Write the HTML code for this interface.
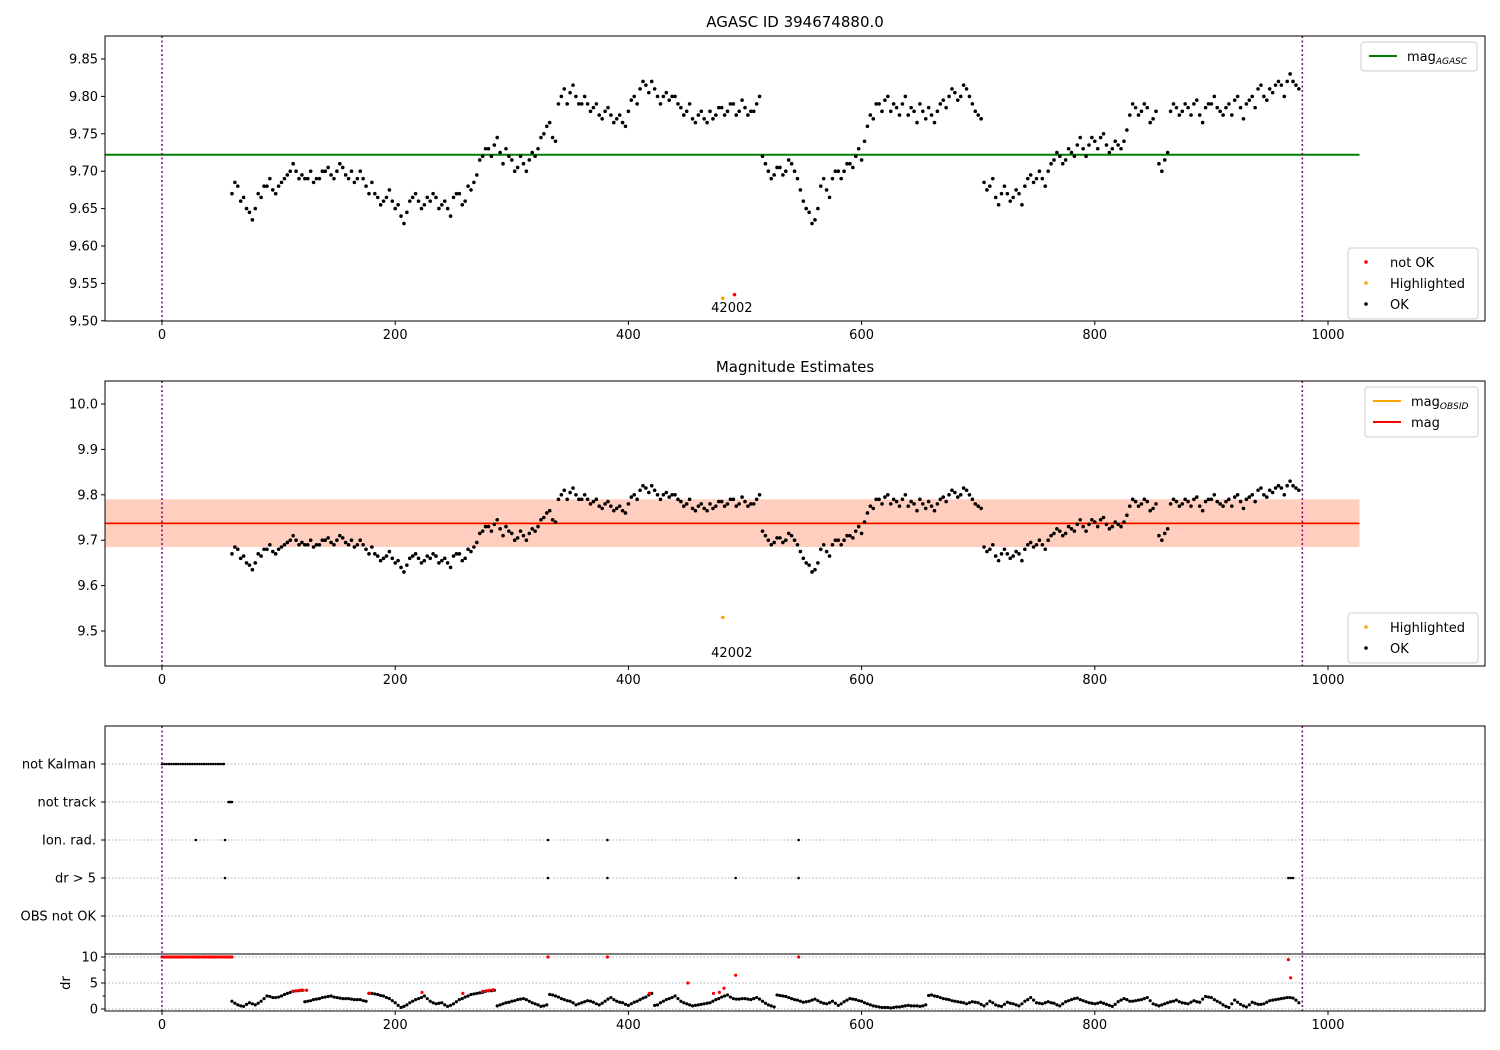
<!DOCTYPE html>
<html><head><meta charset="utf-8">
<style>
html,body{margin:0;padding:0;background:#fff;}
svg{display:block;font-family:"DejaVu Sans","Liberation Sans",sans-serif;}
</style></head>
<body>
<svg id="fig" width="1500" height="1050" viewBox="0 0 1500 1050"></svg>
<script>
const xStart = 60, xStep = 5;
const mags = [9.67,9.68,9.665,9.645,9.65,9.665,9.68,9.675,9.68,9.69,9.70,9.70,9.695,9.69,9.685,9.69,9.70,9.695,9.70,9.705,9.69,9.685,9.70,9.68,9.685,9.665,9.66,9.675,9.65,9.64,9.645,9.665,9.66,9.655,9.66,9.665,9.655,9.65,9.665,9.67,9.66,9.675,9.695,9.72,9.73,9.735,9.725,9.73,9.715,9.705,9.71,9.715,9.72,9.745,9.76,9.745,9.79,9.81,9.805,9.80,9.79,9.79,9.785,9.775,9.78,9.775,9.77,9.765,9.78,9.80,9.81,9.815,9.82,9.80,9.80,9.795,9.80,9.785,9.78,9.77,9.775,9.77,9.78,9.775,9.785,9.78,9.79,9.78,9.785,9.78,9.79,9.72,9.70,9.695,9.705,9.70,9.71,9.69,9.66,9.645,9.635,9.68,9.675,9.69,9.70,9.70,9.71,9.72,9.715,9.76,9.77,9.79,9.795,9.78,9.785,9.79,9.775,9.78,9.79,9.77,9.775,9.78,9.795,9.80,9.805,9.80,9.81,9.79,9.775,9.685,9.68,9.665,9.67,9.67,9.665,9.67,9.68,9.695,9.69,9.69,9.70,9.715,9.72,9.715,9.725,9.735,9.73,9.735,9.74,9.745,9.735,9.73,9.735,9.74,9.775,9.785,9.78,9.785,9.77,9.71,9.715,9.78,9.785,9.78,9.785,9.79,9.775,9.785,9.79,9.785,9.775,9.79,9.795,9.785,9.79,9.80,9.81,9.80,9.81,9.815,9.815,9.82,9.82,9.81];
const xStartB = 62.5;
const magsB = [9.685,9.66,9.65,9.635,9.67,9.68,9.69,9.67,9.685,9.695,9.71,9.69,9.69,9.70,9.69,9.70,9.705,9.69,9.71,9.695,9.70,9.69,9.69,9.67,9.67,9.655,9.665,9.66,9.655,9.63,9.66,9.67,9.65,9.665,9.67,9.65,9.66,9.64,9.67,9.655,9.68,9.685,9.715,9.73,9.72,9.745,9.71,9.72,9.70,9.72,9.70,9.725,9.73,9.75,9.765,9.74,9.80,9.79,9.815,9.79,9.80,9.78,9.79,9.77,9.785,9.765,9.775,9.76,9.795,9.79,9.82,9.805,9.81,9.79,9.805,9.80,9.79,9.775,9.79,9.765,9.78,9.765,9.77,9.785,9.775,9.79,9.775,9.795,9.775,9.78,9.80,9.71,9.69,9.705,9.695,9.715,9.70,9.675,9.65,9.63,9.65,9.69,9.665,9.70,9.69,9.71,9.705,9.73,9.74,9.775,9.79,9.78,9.80,9.79,9.775,9.80,9.785,9.765,9.78,9.785,9.765,9.79,9.785,9.81,9.795,9.815,9.80,9.78,9.77,9.675,9.69,9.655,9.68,9.66,9.675,9.655,9.69,9.685,9.70,9.68,9.71,9.725,9.71,9.73,9.72,9.745,9.72,9.745,9.73,9.75,9.725,9.74,9.73,9.755,9.79,9.775,9.79,9.765,9.78,9.70,9.725,9.79,9.775,9.79,9.775,9.795,9.765,9.79,9.80,9.78,9.785,9.775,9.80,9.77,9.795,9.785,9.815,9.795,9.805,9.82,9.80,9.83,9.815];
const drs = [1.5,0.8,0.5,1.2,0.8,1.5,2.5,2.2,2.3,2.8,3.2,3.5,3.6,1.5,1.8,2.0,2.3,2.5,2.2,2.0,2.0,1.8,1.8,1.5,3.0,2.8,2.5,2.0,1.2,0.3,0.8,1.5,2.0,2.5,1.5,1.0,1.2,0.5,1.0,1.8,2.3,2.8,3.0,3.2,3.5,3.6,0.8,1.2,1.5,1.8,2.0,1.5,1.0,0.5,0.8,2.7,2.3,1.8,1.5,0.8,1.2,1.6,1.3,0.8,1.5,2.2,1.5,1.2,0.7,1.3,1.8,2.3,3.0,0.8,1.5,2.0,2.5,1.5,1.0,0.6,0.8,1.0,1.2,1.8,2.3,2.7,2.0,1.9,2.0,1.8,2.2,1.5,0.8,0.4,2.6,2.4,2.0,1.7,1.3,1.5,1.9,1.3,1.0,1.5,0.7,1.4,2.0,1.8,1.5,1.0,0.6,0.4,0.3,0.2,0.4,0.5,0.7,0.6,0.5,0.8,2.7,2.4,2.0,1.8,1.5,1.3,1.0,1.4,1.2,0.6,1.5,0.8,0.5,1.3,1.0,0.6,1.5,2.2,1.2,1.0,1.4,1.1,0.6,1.4,1.8,2.1,1.6,1.2,1.0,1.3,0.9,0.5,1.4,2.0,1.5,1.6,1.8,2.2,1.0,0.6,1.0,1.4,1.7,1.2,1.0,1.6,1.3,2.4,2.2,1.5,0.8,0.3,1.7,0.9,0.4,1.3,0.9,1.0,1.6,1.8,2.0,2.2,2.1,1.2];
const drsB = [1.1,0.6,0.9,1.0,1.1,2.0,2.4,2.2,2.5,3.0,3.4,3.5,1.4,1.6,1.9,2.2,2.4,2.3,2.1,2.0,1.9,1.8,1.6,3.0,2.9,2.6,2.2,1.6,0.7,0.5,1.2,1.8,2.2,2.0,1.2,1.1,0.8,0.7,1.4,2.0,2.5,2.9,3.1,3.4,3.5,0.6,1.0,1.3,1.6,1.9,1.8,1.2,0.8,0.6,2.8,2.5,2.0,1.6,1.2,1.0,1.4,1.5,1.0,1.1,1.9,1.8,1.3,0.9,1.0,1.5,2.1,2.7,0.7,1.2,1.8,2.2,2.0,1.2,0.8,0.7,0.9,1.1,1.5,2.0,2.5,2.3,1.9,2.0,1.9,2.0,1.9,1.1,0.6,2.7,2.5,2.2,1.8,1.5,1.4,1.7,1.6,1.1,1.2,1.1,1.0,1.7,1.9,1.6,1.2,0.8,0.5,0.3,0.3,0.3,0.4,0.6,0.6,0.6,0.6,2.6,2.5,2.2,1.9,1.6,1.4,1.2,1.2,1.3,0.9,1.0,1.2,0.6,0.9,1.1,0.8,1.0,1.8,1.7,1.1,1.2,1.2,0.8,1.0,1.6,2.0,1.8,1.4,1.1,1.1,1.1,0.7,0.9,1.7,1.8,1.5,1.7,2.0,1.6,0.8,0.8,1.2,1.5,1.4,1.1,1.3,1.4,1.9,2.3,1.8,1.2,0.5,1.0,1.3,0.6,0.8,1.1,0.9,1.3,1.7,1.9,2.1,2.2,1.7];
const redDrX = [0,2,4,6,8,10,12,14,16,18,20,22,24,26,28,30,32,34,36,38,40,42,44,46,48,50,52,54,56,58,60,112,115,118,121,124,178,223,258,275,278,281,284,331,382,418,451,473,478,482,492,546,966,968];
const redDrY = [10,10,10,10,10,10,10,10,10,10,10,10,10,10,10,10,10,10,10,10,10,10,10,10,10,10,10,10,10,10,10,3.4,3.5,3.6,3.6,3.6,3.0,3.2,3.0,3.4,3.5,3.6,3.7,10,10,3.0,5.0,3.0,3.2,4.0,6.5,10,9.5,6.0];
const flagCats = ["not Kalman","not track","Ion. rad.","dr > 5","OBS not OK"];
const flagNotKalman = [0,2,4,6,8,10,12,14,16,18,20,22,24,26,28,30,32,34,36,38,40,42,44,46,48,50,52,53];
const flagNotTrack = [57,58,59,60];
const flagIonRad = [29,54,331,382,546];
const flagDr5 = [54,331,382,492,546,966,968,970];
const flagObs = [];
const magAgasc = 9.722, magObs = 9.737, magLo = 9.685, magHi = 9.79;
const highX = 481, highY = 9.53, notOkX = 491, notOkY = 9.535;
const xTicks = [0,200,400,600,800,1000];
const yTicks1 = [9.50,9.55,9.60,9.65,9.70,9.75,9.80,9.85];
const yTicks2 = [9.5,9.6,9.7,9.8,9.9,10.0];
const drTicks = [0,5,10];

const NS="http://www.w3.org/2000/svg";
const svg=document.getElementById('fig');
function el(tag,attrs,parent,text){const e=document.createElementNS(NS,tag);for(const k in attrs)e.setAttribute(k,attrs[k]);if(text!==undefined)e.textContent=text;(parent||svg).appendChild(e);return e;}
const L=105,R=1485;
const sx=v=>162+v*1.166;
const y1=v=>59+(9.85-v)*748;
const y2=v=>404+(10.0-v)*454;
const yc=i=>764+i*38;
const yd=v=>1009-v*5.2;

function panel(name){
  const g=el('g',{});
  
  
  return g;
}
function frame(g,top,bottom){
  const r=el('rect',{x:L,y:top,width:R-L,height:bottom-top,fill:'none',stroke:'#000','stroke-width':1},g);
  
  
}
function xaxis(g,bottom){
  xTicks.forEach(t=>{
    const ln=el('line',{x1:sx(t),x2:sx(t),y1:bottom,y2:bottom+4,stroke:'#000'},g);
    
    
    const tx=el('text',{x:sx(t),y:bottom+18,'font-size':13,'text-anchor':'middle'},g,String(t));
    
    
  });
}
function yaxis(g,ticks,fy,fmt){
  ticks.forEach(t=>{
    const ln=el('line',{x1:L-4,x2:L,y1:fy(t),y2:fy(t),stroke:'#000'},g);
    
    
    const tx=el('text',{x:L-7,y:fy(t)+4.5,'font-size':13,'text-anchor':'end'},g,fmt(t));
    
    
  });
}
function vlines(g,top,bottom){
  [0,978].forEach(v=>{
    const ln=el('line',{x1:sx(v),x2:sx(v),y1:top,y2:bottom,stroke:'#800080','stroke-width':1.5,'stroke-dasharray':'2,2.5'},g);
    
    
  });
}
function dots(g,xs,ys,fy,color,r,name){
  xs.forEach((x,i)=>{
    if(ys[i]===undefined) return;
    const c=el('circle',{cx:sx(x),cy:fy(ys[i]),r:r,fill:color},g);
    
    
  });
}
function legend(g,x,y,w,items){
  const h=items.length*21+8;
  const b=el('rect',{x:x,y:y,width:w,height:h,rx:3,fill:'#fff','fill-opacity':0.8,stroke:'#ccc'},g);
  
  
  items.forEach((it,i)=>{
    const cy=y+14+i*21;
    if(it.line){
      const ln=el('line',{x1:x+8,x2:x+36,y1:cy,y2:cy,stroke:it.color,'stroke-width':2},g);
      
      
    } else {
      const c=el('circle',{cx:x+18,cy:cy,r:1.8,fill:it.color},g);
      
      
    }
    const t=el('text',{x:x+(it.line?46:42),y:cy+5,'font-size':13},g);
    
    
    t.appendChild(document.createTextNode(it.label));
    if(it.sub){el('tspan',{'font-size':9,'font-style':'italic',dy:3},t,it.sub);}
  });
}
const xsAll=mags.map((_,i)=>xStart+i*xStep);
const xsB=magsB.map((_,i)=>xStartB+i*xStep);
const xsDrB=drsB.map((_,i)=>xStartB+i*xStep);

// Panel 1
const g1=panel('agasc-panel');
const tt1=el('text',{x:795,y:27,'font-size':15,'text-anchor':'middle'},g1,'AGASC ID 394674880.0');


const ag=el('line',{x1:L,x2:sx(1027),y1:y1(magAgasc),y2:y1(magAgasc),stroke:'#008000','stroke-width':2},g1);


dots(g1,xsAll,mags,y1,'#000',1.8,'ok-point');
dots(g1,xsB,magsB,y1,'#000',1.8,'ok-point');
dots(g1,[highX],[highY],y1,'orange',1.8,'highlighted-point');
dots(g1,[notOkX],[notOkY],y1,'red',1.8,'not-ok-point');
const a1=el('text',{x:sx(highX)+9,y:312,'font-size':13,'text-anchor':'middle'},g1,'42002');


vlines(g1,36,321);
frame(g1,36,321);
xaxis(g1,321);
yaxis(g1,yTicks1,y1,t=>t.toFixed(2));
legend(g1,1361,42,116,[{line:true,color:'#008000',label:'mag',sub:'AGASC'}]);
legend(g1,1348,248,130,[{color:'red',label:'not OK'},{color:'orange',label:'Highlighted'},{color:'#000',label:'OK'}]);

// Panel 2
const g2=panel('magnitude-panel');
const tt2=el('text',{x:795,y:372,'font-size':15,'text-anchor':'middle'},g2,'Magnitude Estimates');


const band1=el('rect',{x:L,y:y2(magHi),width:sx(1027)-L,height:y2(magLo)-y2(magHi),fill:'#ffc0cb','fill-opacity':0.45},g2);


const band2=el('rect',{x:L,y:y2(magHi),width:sx(1027)-L,height:y2(magLo)-y2(magHi),fill:'#ffa060','fill-opacity':0.3},g2);


const ol=el('line',{x1:L,x2:sx(1027),y1:y2(magObs),y2:y2(magObs),stroke:'orange','stroke-width':2},g2);


const rl=el('line',{x1:L,x2:sx(1027),y1:y2(magObs),y2:y2(magObs),stroke:'red','stroke-width':1.5},g2);


dots(g2,xsAll,mags,y2,'#000',1.8,'ok-point');
dots(g2,xsB,magsB,y2,'#000',1.8,'ok-point');
dots(g2,[highX],[highY],y2,'orange',1.8,'highlighted-point');
const a2=el('text',{x:sx(highX)+9,y:657,'font-size':13,'text-anchor':'middle'},g2,'42002');


vlines(g2,381,666);
frame(g2,381,666);
xaxis(g2,666);
yaxis(g2,yTicks2,y2,t=>t.toFixed(1));
legend(g2,1365,387,113,[{line:true,color:'orange',label:'mag',sub:'OBSID'},{line:true,color:'red',label:'mag'}]);
legend(g2,1348,613,130,[{color:'orange',label:'Highlighted'},{color:'#000',label:'OK'}]);

// Panel 3
const g3=panel('flags-panel');
flagCats.forEach((c,i)=>{
  const gl=el('line',{x1:L,x2:R,y1:yc(i),y2:yc(i),stroke:'#b0b0b0','stroke-dasharray':'1.5,2'},g3);
  
  
  const tk=el('line',{x1:L-4,x2:L,y1:yc(i),y2:yc(i),stroke:'#000'},g3);
  
  
  const t=el('text',{x:L-9,y:yc(i)+4.5,'font-size':13,'text-anchor':'end'},g3,c);
  
  
});
[flagNotKalman,flagNotTrack,flagIonRad,flagDr5,flagObs].forEach((arr,i)=>{
  arr.forEach(x=>{
    const c=el('circle',{cx:sx(x),cy:yc(i),r:1.3,fill:'#000'},g3);
    
    
  });
});
drTicks.forEach(t=>{
  const gl=el('line',{x1:L,x2:R,y1:yd(t),y2:yd(t),stroke:'#b0b0b0','stroke-dasharray':'1.5,2'},g3);
  
  
});
yaxis(g3,drTicks,yd,t=>String(t));
[2.5,7.5].forEach(t=>{
  const m=el('line',{x1:L-2.5,x2:L,y1:yd(t),y2:yd(t),stroke:'#000'},g3);
  
  
});
const dl=el('text',{x:70,y:983,'font-size':13,'text-anchor':'middle',transform:'rotate(-90 70 983)'},g3,'dr');


dots(g3,xsAll,drs,yd,'#000',1.6,'dr-point');
dots(g3,xsDrB,drsB,yd,'#000',1.6,'dr-point');
dots(g3,redDrX,redDrY,yd,'red',1.6,'dr-bad-point');
const sep=el('line',{x1:L,x2:R,y1:954,y2:954,stroke:'#000','stroke-width':1},g3);


vlines(g3,726,1011);
frame(g3,726,1011);
xaxis(g3,1011);
</script>
</body></html>
